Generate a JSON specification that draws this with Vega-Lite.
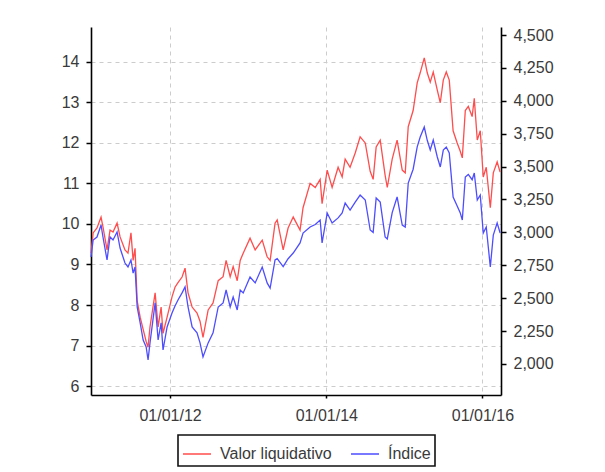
{
  "$schema": "https://vega.github.io/schema/vega-lite/v6.json",
  "width": 410,
  "height": 368,
  "autosize": {"type": "none"},
  "padding": {"left": 91, "top": 27, "right": 104, "bottom": 77},
  "background": "white",
  "data": {"values": [
    {"d": "2010-12-27", "v": 9.28, "i": 2813},
    {"d": "2011-01-06", "v": 9.78, "i": 2942},
    {"d": "2011-01-24", "v": 9.90, "i": 2965},
    {"d": "2011-02-12", "v": 10.17, "i": 3056},
    {"d": "2011-02-21", "v": 9.93, "i": 2965},
    {"d": "2011-03-12", "v": 9.36, "i": 2790},
    {"d": "2011-03-26", "v": 9.85, "i": 2965},
    {"d": "2011-04-09", "v": 9.80, "i": 2942},
    {"d": "2011-04-28", "v": 10.02, "i": 3003},
    {"d": "2011-05-12", "v": 9.68, "i": 2881},
    {"d": "2011-06-04", "v": 9.36, "i": 2767},
    {"d": "2011-06-18", "v": 9.28, "i": 2737},
    {"d": "2011-07-02", "v": 9.78, "i": 2790},
    {"d": "2011-07-12", "v": 9.10, "i": 2691},
    {"d": "2011-07-21", "v": 9.40, "i": 2737},
    {"d": "2011-07-31", "v": 8.10, "i": 2433},
    {"d": "2011-08-14", "v": 7.70, "i": 2312},
    {"d": "2011-08-28", "v": 7.40, "i": 2182},
    {"d": "2011-09-11", "v": 7.10, "i": 2129},
    {"d": "2011-09-20", "v": 6.96, "i": 2030},
    {"d": "2011-09-29", "v": 7.46, "i": 2160},
    {"d": "2011-10-23", "v": 8.30, "i": 2464},
    {"d": "2011-11-06", "v": 7.46, "i": 2182},
    {"d": "2011-11-20", "v": 7.95, "i": 2312},
    {"d": "2011-11-29", "v": 7.30, "i": 2106},
    {"d": "2011-12-18", "v": 7.70, "i": 2281},
    {"d": "2012-01-10", "v": 8.20, "i": 2387},
    {"d": "2012-01-24", "v": 8.44, "i": 2440},
    {"d": "2012-02-07", "v": 8.55, "i": 2486},
    {"d": "2012-02-26", "v": 8.69, "i": 2540},
    {"d": "2012-03-11", "v": 8.91, "i": 2585},
    {"d": "2012-03-25", "v": 8.30, "i": 2433},
    {"d": "2012-04-13", "v": 7.95, "i": 2281},
    {"d": "2012-05-06", "v": 7.80, "i": 2236},
    {"d": "2012-05-20", "v": 7.60, "i": 2160},
    {"d": "2012-06-03", "v": 7.20, "i": 2053},
    {"d": "2012-06-27", "v": 7.88, "i": 2160},
    {"d": "2012-07-20", "v": 8.05, "i": 2236},
    {"d": "2012-08-13", "v": 8.60, "i": 2433},
    {"d": "2012-09-05", "v": 8.70, "i": 2464},
    {"d": "2012-09-19", "v": 9.10, "i": 2562},
    {"d": "2012-10-08", "v": 8.70, "i": 2433},
    {"d": "2012-10-22", "v": 8.95, "i": 2509},
    {"d": "2012-11-10", "v": 8.60, "i": 2410},
    {"d": "2012-11-24", "v": 9.10, "i": 2562},
    {"d": "2012-12-08", "v": 9.28, "i": 2540},
    {"d": "2013-01-09", "v": 9.65, "i": 2661},
    {"d": "2013-02-02", "v": 9.36, "i": 2616},
    {"d": "2013-03-07", "v": 9.60, "i": 2737},
    {"d": "2013-03-30", "v": 9.19, "i": 2616},
    {"d": "2013-04-13", "v": 9.10, "i": 2577},
    {"d": "2013-05-06", "v": 10.02, "i": 2790},
    {"d": "2013-05-16", "v": 10.10, "i": 2800},
    {"d": "2013-06-13", "v": 9.36, "i": 2740},
    {"d": "2013-07-06", "v": 9.90, "i": 2800},
    {"d": "2013-07-30", "v": 10.17, "i": 2843},
    {"d": "2013-08-31", "v": 9.85, "i": 2920},
    {"d": "2013-09-14", "v": 10.40, "i": 2995},
    {"d": "2013-10-17", "v": 11.00, "i": 3041},
    {"d": "2013-11-10", "v": 10.90, "i": 3060},
    {"d": "2013-12-03", "v": 11.10, "i": 3094},
    {"d": "2013-12-12", "v": 10.50, "i": 2920},
    {"d": "2014-01-05", "v": 11.33, "i": 3147},
    {"d": "2014-01-28", "v": 10.90, "i": 3071},
    {"d": "2014-02-25", "v": 11.40, "i": 3110},
    {"d": "2014-03-16", "v": 11.16, "i": 3147},
    {"d": "2014-03-30", "v": 11.60, "i": 3223},
    {"d": "2014-04-22", "v": 11.40, "i": 3170},
    {"d": "2014-05-16", "v": 11.75, "i": 3230},
    {"d": "2014-06-08", "v": 12.15, "i": 3284},
    {"d": "2014-07-02", "v": 12.00, "i": 3246},
    {"d": "2014-07-25", "v": 11.30, "i": 3018},
    {"d": "2014-08-08", "v": 11.10, "i": 3000},
    {"d": "2014-08-22", "v": 11.90, "i": 3261},
    {"d": "2014-09-10", "v": 12.07, "i": 3230},
    {"d": "2014-10-03", "v": 11.20, "i": 2965},
    {"d": "2014-10-13", "v": 10.90, "i": 2950},
    {"d": "2014-11-05", "v": 11.60, "i": 3150},
    {"d": "2014-11-28", "v": 12.07, "i": 3269},
    {"d": "2014-12-22", "v": 11.33, "i": 3056},
    {"d": "2015-01-05", "v": 11.26, "i": 3041},
    {"d": "2015-01-19", "v": 12.40, "i": 3375},
    {"d": "2015-02-11", "v": 12.80, "i": 3480},
    {"d": "2015-03-02", "v": 13.48, "i": 3650},
    {"d": "2015-03-16", "v": 13.73, "i": 3725},
    {"d": "2015-04-04", "v": 14.10, "i": 3801},
    {"d": "2015-04-18", "v": 13.73, "i": 3700},
    {"d": "2015-05-02", "v": 13.50, "i": 3626},
    {"d": "2015-05-16", "v": 13.75, "i": 3702},
    {"d": "2015-06-04", "v": 13.30, "i": 3573},
    {"d": "2015-06-18", "v": 12.99, "i": 3497},
    {"d": "2015-07-02", "v": 13.55, "i": 3626},
    {"d": "2015-07-16", "v": 13.75, "i": 3649},
    {"d": "2015-07-30", "v": 13.55, "i": 3603},
    {"d": "2015-08-17", "v": 12.30, "i": 3269},
    {"d": "2015-09-05", "v": 12.00, "i": 3200},
    {"d": "2015-09-19", "v": 11.80, "i": 3150},
    {"d": "2015-09-29", "v": 11.63, "i": 3094},
    {"d": "2015-10-13", "v": 12.80, "i": 3421},
    {"d": "2015-10-27", "v": 12.90, "i": 3440},
    {"d": "2015-11-14", "v": 12.65, "i": 3400},
    {"d": "2015-11-24", "v": 13.10, "i": 3451},
    {"d": "2015-12-08", "v": 12.07, "i": 3246},
    {"d": "2015-12-22", "v": 12.30, "i": 3284},
    {"d": "2016-01-05", "v": 11.16, "i": 2995},
    {"d": "2016-01-19", "v": 11.40, "i": 3041},
    {"d": "2016-02-07", "v": 10.40, "i": 2737},
    {"d": "2016-02-21", "v": 11.26, "i": 2980},
    {"d": "2016-03-10", "v": 11.53, "i": 3071},
    {"d": "2016-03-24", "v": 11.28, "i": 2995}
  ]},
  "encoding": {
    "x": {
      "field": "d",
      "type": "temporal",
      "title": null,
      "scale": {
        "type": "utc",
        "domain": [
          {"year": 2010, "month": 12, "date": 27, "utc": true},
          {"year": 2016, "month": 3, "date": 28, "utc": true}
        ],
        "nice": false
      },
      "axis": {
        "values": [
          {"year": 2012, "month": 1, "date": 1, "utc": true},
          {"year": 2014, "month": 1, "date": 1, "utc": true},
          {"year": 2016, "month": 1, "date": 1, "utc": true}
        ],
        "format": "%d/%m/%y",
        "grid": true,
        "tickSize": 3,
        "labelPadding": 9
      }
    }
  },
  "layer": [
    {
      "mark": {"type": "line", "strokeWidth": 1.3, "interpolate": "linear"},
      "encoding": {
        "y": {
          "field": "v",
          "type": "quantitative",
          "title": null,
          "scale": {"domain": [5.78, 14.86], "nice": false, "zero": false},
          "axis": {
            "orient": "left",
            "values": [6, 7, 8, 9, 10, 11, 12, 13, 14],
            "grid": true,
            "tickSize": 5,
            "labelPadding": 7
          }
        },
        "color": {
          "datum": "Valor liquidativo",
          "type": "nominal",
          "scale": {"domain": ["Valor liquidativo", "Índice"], "range": ["#ff4d4d", "#4d4dff"]},
          "legend": {
            "title": null,
            "orient": "none",
            "direction": "horizontal",
            "legendX": 87,
            "legendY": 408,
            "symbolType": "stroke",
            "symbolSize": 784,
            "symbolStrokeWidth": 1.5,
            "labelOffset": 8,
            "columnPadding": 16,
            "padding": 4,
            "strokeColor": "#111111",
            "labelFont": "Liberation Sans",
            "labelFontSize": 16,
            "labelColor": "#3a3a3a"
          }
        }
      }
    },
    {
      "mark": {"type": "line", "strokeWidth": 1.3, "interpolate": "linear"},
      "encoding": {
        "y": {
          "field": "i",
          "type": "quantitative",
          "title": null,
          "scale": {"domain": [1764, 4561], "nice": false, "zero": false},
          "axis": {
            "orient": "right",
            "values": [2000, 2250, 2500, 2750, 3000, 3250, 3500, 3750, 4000, 4250, 4500],
            "format": ",d",
            "grid": false,
            "tickSize": 5,
            "labelPadding": 7
          }
        },
        "color": {"datum": "Índice", "type": "nominal"}
      }
    }
  ],
  "resolve": {"scale": {"y": "independent"}},
  "config": {
    "view": {"stroke": null},
    "axis": {
      "domainColor": "#000000",
      "domainWidth": 1.6,
      "tickColor": "#000000",
      "tickWidth": 1.5,
      "labelFont": "Liberation Sans",
      "labelFontSize": 16,
      "labelColor": "#3a3a3a",
      "gridColor": "#cccccc",
      "gridDash": [4, 4],
      "gridWidth": 1
    },
    "legend": {"strokeWidth": 1.6}
  }
}
